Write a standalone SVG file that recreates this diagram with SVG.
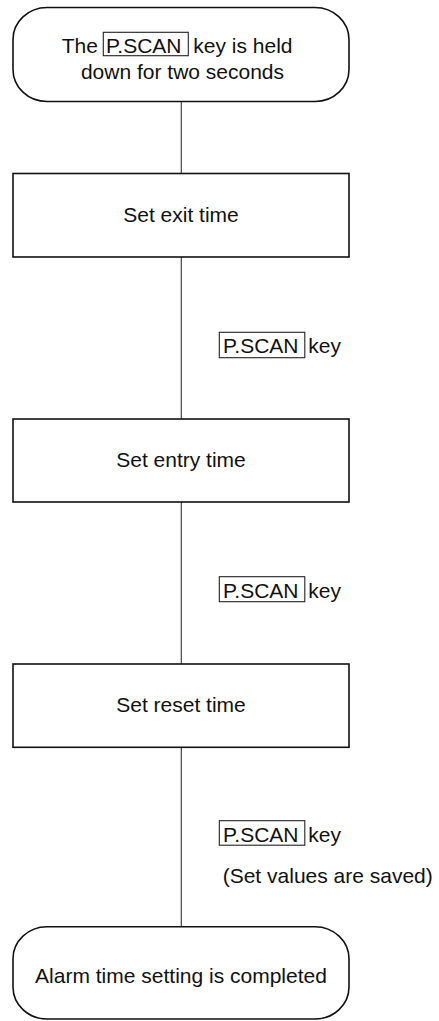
<svg xmlns="http://www.w3.org/2000/svg" width="439" height="1021" viewBox="0 0 439 1021">
<style>
text{font-family:"Liberation Sans",Arial,sans-serif;font-size:21px;fill:#111}
.node{fill:#fff;stroke:#111;stroke-width:1.6}
.key{fill:none;stroke:#222;stroke-width:1.1}
.conn{stroke:#444;stroke-width:1.2;fill:none}
.c{text-anchor:middle}
</style>
<rect width="439" height="1021" fill="#fff"/>
<g id="connectors">
<line class="conn" x1="181.3" y1="101" x2="181.3" y2="173"/>
<line class="conn" x1="181.3" y1="257" x2="181.3" y2="419"/>
<line class="conn" x1="181.3" y1="502" x2="181.3" y2="664"/>
<line class="conn" x1="181.3" y1="747" x2="181.3" y2="927"/>
</g>
<g id="start">
<rect class="node" x="13" y="7.5" width="336" height="94" rx="34" ry="32"/>
<rect class="key" x="103.3" y="32.3" width="85" height="23.4"/>
<text x="61.7" y="53.3">The</text>
<text x="106" y="53.3">P.SCAN</text>
<text x="193.3" y="53.3">key is held</text>
<text class="c" x="182.5" y="79">down for two seconds</text>
</g>
<g id="exit">
<rect class="node" x="13" y="173.5" width="336" height="83.5"/>
<text class="c" x="181" y="221.7">Set exit time</text>
</g>
<g id="label1">
<rect class="key" x="219.3" y="332.3" width="85.5" height="25.4"/>
<text x="223" y="353.3">P.SCAN</text>
<text x="308.3" y="353.3">key</text>
</g>
<g id="entry">
<rect class="node" x="13" y="419" width="336" height="83"/>
<text class="c" x="181" y="466.7">Set entry time</text>
</g>
<g id="label2">
<rect class="key" x="219.3" y="576.7" width="85.5" height="25"/>
<text x="223" y="597.7">P.SCAN</text>
<text x="308.3" y="597.7">key</text>
</g>
<g id="reset">
<rect class="node" x="13" y="664" width="336" height="83.3"/>
<text class="c" x="181" y="712.3">Set reset time</text>
</g>
<g id="label3">
<rect class="key" x="219.3" y="820.7" width="85.5" height="24.5"/>
<text x="223" y="841.5">P.SCAN</text>
<text x="308.3" y="841.5">key</text>
<text x="222.7" y="883">(Set values are saved)</text>
</g>
<g id="end">
<rect class="node" x="13" y="926.7" width="336" height="92.3" rx="34" ry="32"/>
<text class="c" x="181" y="982.7">Alarm time setting is completed</text>
</g>
</svg>
